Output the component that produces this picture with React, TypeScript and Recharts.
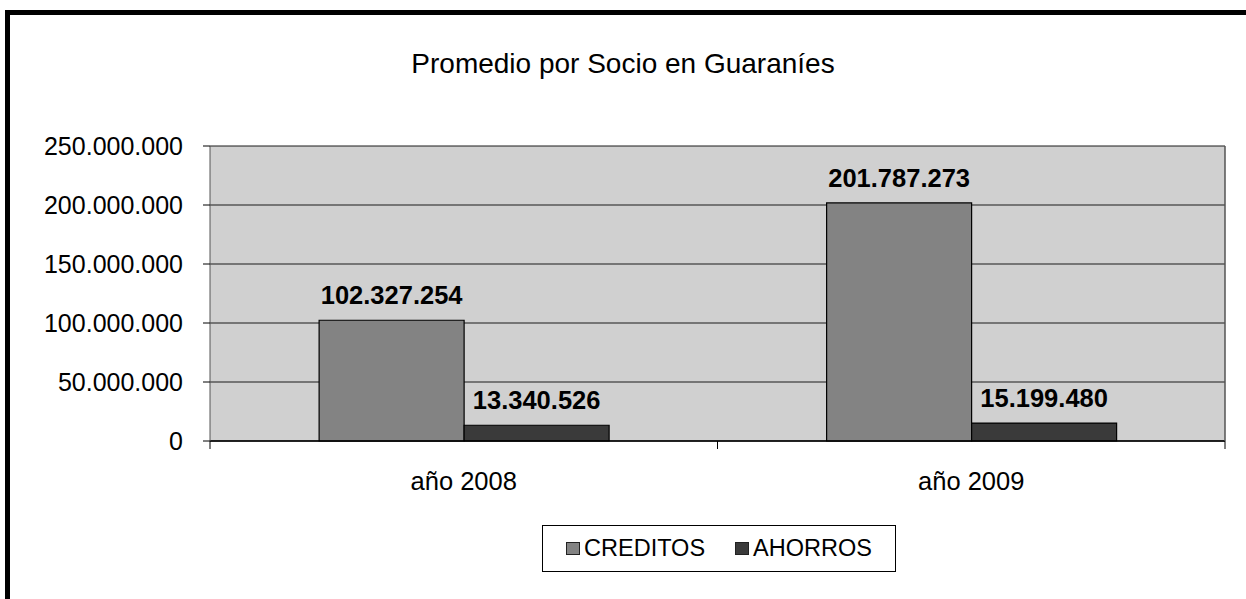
import React from 'react';
import { BarChart, Bar, XAxis, YAxis, CartesianGrid, Legend, LabelList } from 'recharts';

const categories = ['año 2008', 'año 2009'];
const creditos = [102327254, 201787273];
const ahorros = [13340526, 15199480];
const yTicks = [0, 50000000, 100000000, 150000000, 200000000, 250000000];
const seriesNames = ['CREDITOS', 'AHORROS'];
const seriesColors = ['#838383', '#3a3a3a'];

const FONT = '"Liberation Sans", Arial, sans-serif';
const X_TICK_MARGIN = 25;

const data = categories.map((name, i) => ({ name, CREDITOS: creditos[i], AHORROS: ahorros[i] }));

const fmt = (v: number) => String(v).replace(/\B(?=(\d{3})+(?!\d))/g, '.');

// category label plus the tick marks that sit on the category boundaries
const XTick = (props: any) => {
  const { x, y, payload, width, visibleTicksCount } = props;
  const band = width / (visibleTicksCount || categories.length);
  const axisY = y - 6 - X_TICK_MARGIN;
  return (
    <g>
      <line x1={x - band / 2} x2={x - band / 2} y1={axisY} y2={axisY + 8} stroke="#000" />
      <line x1={x + band / 2} x2={x + band / 2} y1={axisY} y2={axisY + 8} stroke="#000" />
      <text x={x} y={y} dy="0.71em" textAnchor="middle" fontSize={25.5} fill="#000" fontFamily={FONT}>
        {payload.value}
      </text>
    </g>
  );
};

const LegendBox = () => (
  <div
    style={{
      width: 354,
      height: 47,
      boxSizing: 'border-box',
      border: '1.5px solid #000',
      background: '#fff',
      display: 'flex',
      alignItems: 'center',
      justifyContent: 'center',
      fontFamily: FONT,
      fontSize: 23.5,
      color: '#000',
    }}
  >
    {seriesNames.map((n, i) => (
      <span key={n} style={{ display: 'flex', alignItems: 'center', marginLeft: i ? 30 : 0 }}>
        <span
          style={{
            width: 14,
            height: 13,
            boxSizing: 'border-box',
            background: seriesColors[i],
            border: '1px solid #222',
            marginRight: 4,
          }}
        />
        {n}
      </span>
    ))}
  </div>
);

export default function App() {
  return (
    <div style={{ position: 'absolute', left: 0, top: 0, width: 1246, height: 599, background: '#fff' }}>
      <BarChart
        width={1246}
        height={599}
        data={data}
        margin={{ top: 146, right: 20, bottom: 108, left: 10 }}
        barGap={0}
        barCategoryGap="21.5%"
      >
        <CartesianGrid vertical={false} stroke="#1a1a1a" fill="#d0d0d0" fillOpacity={1} />
        <XAxis
          dataKey="name"
          height={50}
          tickLine={false}
          axisLine={{ stroke: '#000', strokeWidth: 1.5 }}
          tickMargin={X_TICK_MARGIN}
          tick={<XTick />}
        />
        <YAxis
          width={200}
          domain={[0, 250000000]}
          ticks={yTicks}
          tickFormatter={fmt}
          tickSize={7}
          tickMargin={20}
          axisLine={{ stroke: '#555' }}
          tickLine={{ stroke: '#000' }}
          tick={{ fontSize: 25, fill: '#000', fontFamily: FONT }}
        />
        <YAxis
          yAxisId="right"
          orientation="right"
          width={1}
          tick={false}
          tickLine={false}
          axisLine={{ stroke: '#555', strokeWidth: 1.5 }}
        />
        <Legend
          layout="horizontal"
          verticalAlign="middle"
          align="center"
          wrapperStyle={{ left: 542, top: 525, width: 354, height: 47 }}
          content={() => <LegendBox />}
        />
        <Bar dataKey="CREDITOS" fill={seriesColors[0]} stroke="#000" strokeWidth={1.2} isAnimationActive={false}>
          <LabelList
            dataKey="CREDITOS"
            position="top"
            offset={16}
            formatter={(v: any) => fmt(Number(v))}
            style={{ fontSize: 25.5, fontWeight: 'bold', fill: '#000', fontFamily: FONT }}
          />
        </Bar>
        <Bar dataKey="AHORROS" fill={seriesColors[1]} stroke="#000" strokeWidth={1.2} isAnimationActive={false}>
          <LabelList
            dataKey="AHORROS"
            position="top"
            offset={16}
            formatter={(v: any) => fmt(Number(v))}
            style={{ fontSize: 25.5, fontWeight: 'bold', fill: '#000', fontFamily: FONT }}
          />
        </Bar>
      </BarChart>
      <div
        style={{
          position: 'absolute',
          left: 0,
          width: 1246,
          top: 48,
          textAlign: 'center',
          fontFamily: FONT,
          fontSize: 28,
          color: '#000',
          lineHeight: '32px',
        }}
      >
        Promedio por Socio en Guaraníes
      </div>
      <div
        style={{
          position: 'absolute',
          left: 5,
          top: 10,
          width: 1241,
          height: 589,
          boxSizing: 'border-box',
          borderTop: '5px solid #000',
          borderLeft: '5px solid #000',
          pointerEvents: 'none',
        }}
      />
    </div>
  );
}
